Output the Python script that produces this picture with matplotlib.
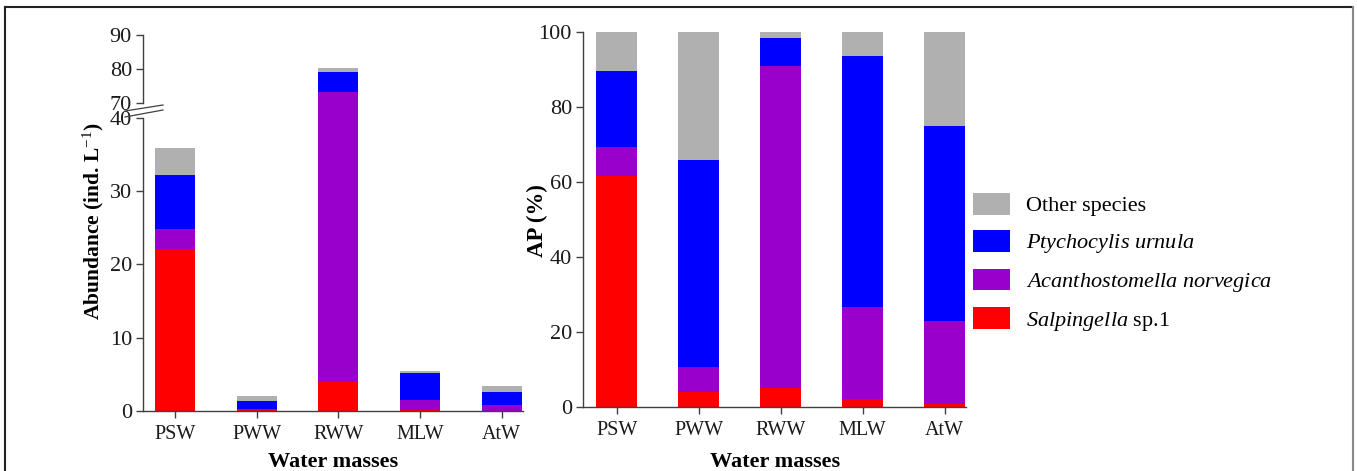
import numpy as np
import matplotlib
matplotlib.use("Agg")
import matplotlib.pyplot as plt
from matplotlib.patches import Patch
from matplotlib.lines import Line2D

plt.rcParams['font.family'] = ['Liberation Serif', 'DejaVu Serif']
plt.rcParams['mathtext.fontset'] = 'custom'
plt.rcParams['mathtext.rm'] = 'Liberation Serif'
plt.rcParams['mathtext.it'] = 'Liberation Serif:italic'
plt.rcParams['mathtext.bf'] = 'Liberation Serif:bold'

masses = ['PSW', 'PWW', 'RWW', 'MLW', 'AtW']
legend_labels = [r'$\mathit{Salpingella}$ sp.1',
                 r'$\mathit{Acanthostomella\ norvegica}$',
                 r'$\mathit{Ptychocylis\ urnula}$',
                 'Other species']
colors = ['#ff0000', '#9900cc', '#0000ff', '#b0b0b0']

# abundance (ind. L-1), stacked segments
ab_salp = [22.1, 0.08, 4.0, 0.11, 0.03]
ab_acan = [2.8, 0.14, 69.1, 1.35, 0.75]
ab_ptyc = [7.3, 1.10, 6.1, 3.70, 1.77]
ab_other = [3.7, 0.68, 1.2, 0.34, 0.85]

# AP (%), stacked segments
ap_salp = [61.7, 4.1, 5.0, 2.1, 0.7]
ap_acan = [7.8, 6.7, 85.9, 24.6, 22.3]
ap_ptyc = [20.2, 55.0, 7.7, 67.1, 52.1]
ap_other = [10.3, 34.2, 1.4, 6.2, 24.9]

W, H = 1357, 471
fig = plt.figure(figsize=(W / 100, H / 100), dpi=100)

def fx(px):
    return px / W

def fy(py):
    return 1 - py / H

axcol = '#404040'
xfs = 14.5
yfs = 16

# broken y scale: 0-40 normal, 40-70 squeezed into the gap, 70-90 compressed
GAP = 2.05
UP = 0.4638

def fwd(v):
    v = np.asarray(v, dtype=float)
    return np.where(v <= 40, v,
                    np.where(v < 70, 40 + (v - 40) / 30 * GAP,
                             40 + GAP + (v - 70) * UP))

def inv(u):
    u = np.asarray(u, dtype=float)
    return np.where(u <= 40, u,
                    np.where(u < 40 + GAP, 40 + (u - 40) / GAP * 30,
                             70 + (u - 40 - GAP) / UP))

def stack(ax, segs, width):
    x = np.arange(len(masses))
    bottom = np.zeros(len(masses))
    for seg, col in zip(segs, colors):
        ax.bar(x, seg, width, bottom=bottom, color=col, linewidth=0)
        bottom += np.array(seg)

def style(ax):
    for s in ['top', 'right']:
        ax.spines[s].set_visible(False)
    for s in ['left', 'bottom']:
        ax.spines[s].set_color(axcol)
        ax.spines[s].set_linewidth(1.0)
    ax.tick_params(colors=axcol, labelcolor='#1a1a1a', length=5, width=1)
    ax.tick_params(axis='x', labelsize=xfs, pad=5)
    ax.tick_params(axis='y', labelsize=yfs, pad=3)

ab = [ab_salp, ab_acan, ab_ptyc, ab_other]
ap = [ap_salp, ap_acan, ap_ptyc, ap_other]

# left panel
ax_l = fig.add_axes([fx(143), fy(411), fx(523 - 143), (411 - 35) / H])
ax_l.set_yscale('function', functions=(fwd, inv))
stack(ax_l, ab, 0.49)
style(ax_l)
ax_l.set_xlim(-0.39, 4.26)
ax_l.set_ylim(0, 90)
ax_l.set_yticks([0, 10, 20, 30, 40, 70, 80, 90])
ax_l.set_yticklabels(['0', '10', '20', '30', '40', '70', '80', '90'])
ax_l.yaxis.set_minor_locator(plt.NullLocator())
ax_l.set_xticks(range(5))
ax_l.set_xticklabels(masses)
ax_l.spines['left'].set_bounds(0, 40)
ax_l.plot([0, 0], [70, 90], color=axcol, lw=1.0,
          transform=ax_l.get_yaxis_transform(), clip_on=False)
fig.text(fx(93), fy(221), r'Abundance (ind. L$^{-1}$)', rotation=90, fontsize=15.5,
         fontweight='bold', ha='center', va='center')
fig.text(fx(333), fy(462), 'Water masses', fontsize=16, fontweight='bold',
         ha='center', va='center')

# break marks
for y0, y1 in [(111, 105), (117, 110)]:
    fig.add_artist(Line2D([fx(125), fx(163)], [fy(y0), fy(y1)], color=axcol, lw=0.9))

# right panel
ax_r = fig.add_axes([fx(583), fy(407), fx(966 - 583), (407 - 32.3) / H])
stack(ax_r, ap, 0.5)
style(ax_r)
ax_r.set_xlim(-0.41, 4.26)
ax_r.set_ylim(0, 100)
ax_r.set_yticks([0, 20, 40, 60, 80, 100])
ax_r.set_xticks(range(5))
ax_r.set_xticklabels(masses)
fig.text(fx(537), fy(221), 'AP (%)', rotation=90, fontsize=16.5,
         fontweight='bold', ha='center', va='center')
fig.text(fx(775), fy(462), 'Water masses', fontsize=16, fontweight='bold',
         ha='center', va='center')

# legend
handles = [Patch(facecolor=c, edgecolor='none') for c in colors][::-1]
fig.legend(handles, legend_labels[::-1], loc='upper left',
           bbox_to_anchor=(fx(973), fy(193)), frameon=False, fontsize=16,
           handlelength=1.67, handleheight=1.13, labelspacing=0.6,
           handletextpad=0.72, borderpad=0, borderaxespad=0)

# outer frame
fig.add_artist(Line2D([fx(5), fx(5)], [fy(7), 0], color='#222222', lw=1.5))
fig.add_artist(Line2D([fx(5), fx(1353)], [fy(7), fy(7)], color='#222222', lw=1.5))
fig.add_artist(Line2D([fx(1353), fx(1353)], [fy(7), 0], color='#888888', lw=1.5))

fig.savefig('out.png', dpi=100)
